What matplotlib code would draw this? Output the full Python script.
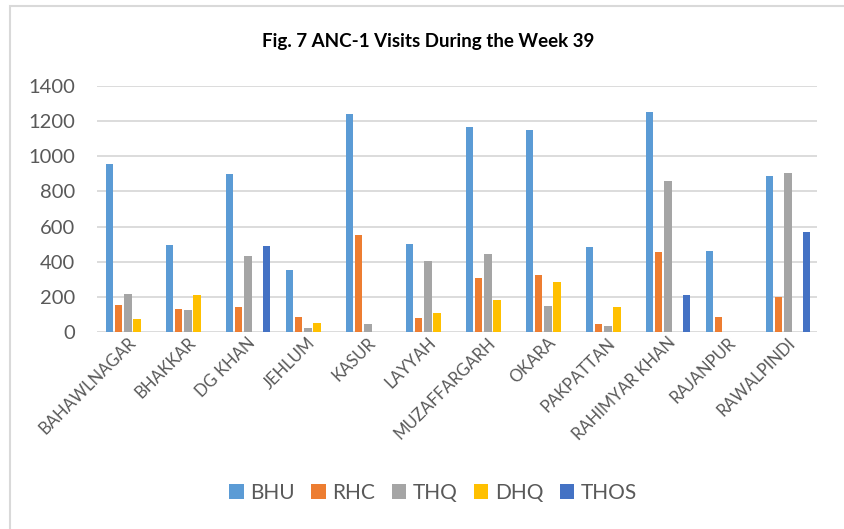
import matplotlib
matplotlib.use("Agg")
import matplotlib.pyplot as plt
import matplotlib.patches as mpatches
import matplotlib.transforms as mtransforms
import numpy as np

plt.rcParams['font.family'] = ['Lato', 'DejaVu Sans']

districts = ["BAHAWLNAGAR", "BHAKKAR", "DG KHAN", "JEHLUM", "KASUR", "LAYYAH",
             "MUZAFFARGARH", "OKARA", "PAKPATTAN", "RAHIMYAR KHAN", "RAJANPUR", "RAWALPINDI"]
series_names = ["BHU", "RHC", "THQ", "DHQ", "THOS"]
bhu  = [954, 495, 900, 355, 1241, 499, 1165, 1152, 484, 1254, 461, 886]
rhc  = [156, 133, 140, 85, 550, 82, 306, 326, 48, 454, 88, 199]
thq  = [214, 125, 433, 23, 48, 402, 442, 146, 34, 858, 0, 903]
dhq  = [74, 213, 0, 53, 0, 108, 184, 285, 141, 0, 0, 0]
thos = [0, 0, 488, 0, 0, 0, 0, 0, 0, 211, 0, 569]
colors = ["#5B9BD5", "#ED7D31", "#A5A5A5", "#FFC000", "#4472C4"]
title = "Fig. 7 ANC-1 Visits During the Week 39"

W, H = 844, 529
fig = plt.figure(figsize=(W / 100, H / 100), dpi=100)
fig.patch.set_facecolor("white")

# outer chart border
fig.patches.append(mpatches.Rectangle((10 / W, -0.05), 1.1, 1 - 6 / H + 0.05,
                                      transform=fig.transFigure, fill=False,
                                      edgecolor="#d9d9d9", linewidth=1.5))

left, right, top, bottom = 97, 817, 86, 332
ax = fig.add_axes([left / W, 1 - bottom / H, (right - left) / W, (bottom - top) / H])

x = np.arange(len(districts))
step = 0.153
width = 0.125
all_series = [bhu, rhc, thq, dhq, thos]
for k, (name, vals, c) in enumerate(zip(series_names, all_series, colors)):
    ax.bar(x + (k - 2) * step + 0.015, vals, width=width, color=c, label=name, zorder=3)

ax.set_xlim(-0.5, len(districts) - 0.5)
ax.set_ylim(0, 1400)
ax.set_yticks(np.arange(0, 1401, 200))
ax.yaxis.grid(True, color="#d9d9d9", linewidth=1.3, zorder=0)
ax.set_axisbelow(True)
for s in ax.spines.values():
    s.set_visible(False)
ax.tick_params(axis="both", length=0)
ax.tick_params(axis="y", labelsize=14.5, labelcolor="#595959", pad=16)
ax.set_xticks(x)
ax.set_xticklabels(districts, rotation=45, ha="right", va="center",
                   rotation_mode="anchor", fontsize=12, color="#595959")
ax.tick_params(axis="x", pad=6)
offset = mtransforms.ScaledTranslation(6 / 100, 0, fig.dpi_scale_trans)
for lbl in ax.get_xticklabels():
    lbl.set_transform(lbl.get_transform() + offset)

fig.text(428 / W, 1 - 42 / H, title, ha="center", va="center",
         fontsize=13.5, fontweight="bold", color="#000000")

leg = fig.legend(loc="center", bbox_to_anchor=(433 / W, 1 - 493 / H), ncol=5,
                 frameon=False, fontsize=15, handlelength=0.7, handleheight=0.7,
                 handletextpad=0.3, columnspacing=0.8)
for t in leg.get_texts():
    t.set_color("#595959")

fig.savefig("out.png", dpi=100, facecolor="white")
